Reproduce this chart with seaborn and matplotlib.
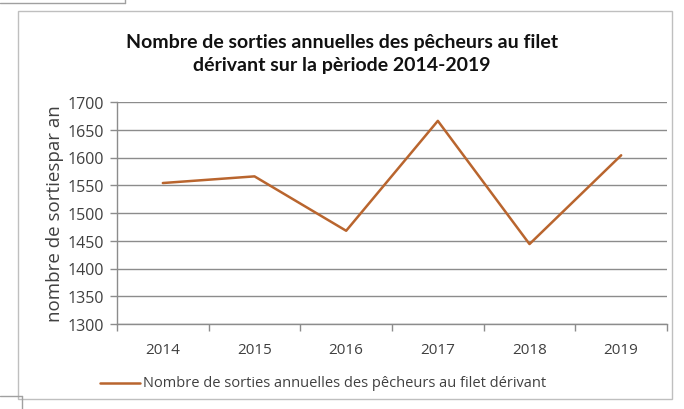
import matplotlib
matplotlib.use("Agg")
import matplotlib.pyplot as plt
import seaborn as sns
import pandas as pd
from matplotlib.lines import Line2D
from matplotlib.patches import Rectangle

years = ["2014", "2015", "2016", "2017", "2018", "2019"]
sorties = [1554, 1566, 1468, 1666, 1444, 1604]
series_name = "Nombre de sorties annuelles des pêcheurs au filet dérivant"
title = "Nombre de sorties annuelles des pêcheurs au filet\ndérivant sur la pèriode 2014-2019"
ylabel = "nombre de sortiespar an"
yticks = [1300, 1350, 1400, 1450, 1500, 1550, 1600, 1650, 1700]

sns.set_theme(style="white")
plt.rcParams['font.family'] = ['Open Sans', 'DejaVu Sans']

df = pd.DataFrame({"annee": years, "sorties": sorties})

fig = plt.figure(figsize=(6.84, 4.10), dpi=100)
ax = fig.add_axes([117/684, 1-325/410, 550/684, 222/410])

line_color = "#B9652E"
text_color = "#404040"
grid_color = "#8C8C8C"

sns.lineplot(data=df, x="annee", y="sorties", ax=ax, color=line_color, lw=1.8,
             sort=False, legend=False)

ax.set_xlim(-0.5, len(years) - 0.5)
ax.set_ylim(1300, 1700)
ax.set_yticks(yticks)
ax.yaxis.grid(True, color=grid_color, lw=1.0)
ax.set_axisbelow(True)
for s in ["top", "right"]:
    ax.spines[s].set_visible(False)
for s in ["left", "bottom"]:
    ax.spines[s].set_color(grid_color)
    ax.spines[s].set_linewidth(1.0)

ax.set_xticks(range(len(years)))
ax.set_xticklabels(years)
ax.set_xticks([i - 0.5 for i in range(len(years) + 1)], minor=True)
ax.tick_params(axis="x", which="major", length=0, pad=13, labelsize=11, labelcolor=text_color)
ax.tick_params(axis="x", which="minor", length=5, width=1, color=grid_color, direction="out", bottom=True)
ax.tick_params(axis="y", length=5, width=1, color=grid_color, direction="out", left=True,
               labelsize=11.5, labelcolor=text_color, pad=4)
ax.set_xlabel("")
ax.set_ylabel(ylabel, fontsize=13.5, color=text_color, labelpad=3)

fig.text(342/684, 1-54/410, title, ha="center", va="center", fontsize=14, fontweight="bold",
         color="#111111", linespacing=1.4, family=['Lato', 'DejaVu Sans'])

# legend
fig.add_artist(Line2D([100/684, 140/684], [1-384/410, 1-384/410], color=line_color, lw=1.8))
fig.text(143/684, 1-384/410, series_name, ha="left", va="center", fontsize=10.5, color=text_color)

# chart border
fig.add_artist(Rectangle((18/684, 1-400/410), (672-18)/684, (400-12)/410, fill=False,
                         edgecolor="#BFBFBF", lw=1.0, transform=fig.transFigure))
# small neighbouring box edges
fig.add_artist(Line2D([0, 125/684], [1-4/410, 1-4/410], color="#A0A0A0", lw=1.0))
fig.add_artist(Line2D([125/684, 125/684], [1, 1-4/410], color="#A0A0A0", lw=1.0))
fig.add_artist(Line2D([0, 22/684], [1-397/410, 1-397/410], color="#A0A0A0", lw=1.0))
fig.add_artist(Line2D([22/684, 22/684], [1-397/410, 0], color="#A0A0A0", lw=1.0))

fig.savefig("out.png", dpi=100)
